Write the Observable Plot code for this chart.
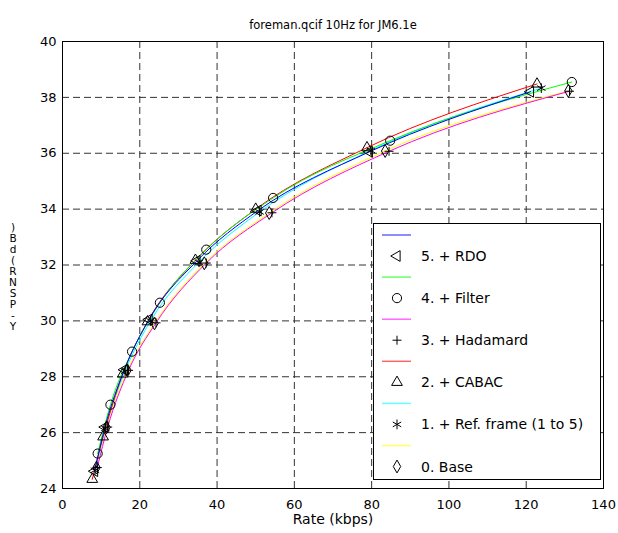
<!DOCTYPE html>
<html>
<head>
<meta charset="utf-8">
<script src="https://cdn.jsdelivr.net/npm/d3@7"></script>
<script src="https://cdn.jsdelivr.net/npm/@observablehq/plot@0.6"></script>
<style>
  html, body { margin: 0; padding: 0; background: #fff; }
  #wrap { position: relative; width: 618px; height: 533px; font-family: "DejaVu Sans", sans-serif; }
  #wrap svg.overlay { position: absolute; left: 0; top: 0; pointer-events: none; }
</style>
</head>
<body>
<div id="wrap"></div>
<script>
// ---- data ----
const titleText = "foreman.qcif 10Hz for JM6.1e";
const xLabel = "Rate (kbps)";
const yLabel = "Y-PSNR (dB)";
const xTicks = [0, 20, 40, 60, 80, 100, 120, 140];
const yTicks = [24, 26, 28, 30, 32, 34, 36, 38, 40];

const seriesNames = ["5. + RDO", "4. + Filter", "3. + Hadamard", "2. + CABAC", "1. + Ref. frame (1 to 5)", "0. Base"];
const seriesColors = ["#0000ff", "#00ff00", "#ff00ff", "#ff0000", "#00ffff", "#ffff00"];
const seriesSymbols = ["triangleLeft", "circle", "plus", "triangle", "asterisk", "diamond"];

const rateRDO = [8.3, 11.0, 16.0, 22.4, 34.8, 50.6, 79.4, 121.1];
const psnrRDO = [24.62, 26.2, 28.25, 30.05, 32.15, 33.95, 36.05, 38.2];
const rateFilter = [9.1, 12.4, 18.0, 25.2, 37.2, 54.5, 84.8, 131.8];
const psnrFilter = [25.25, 27.0, 28.9, 30.65, 32.55, 34.4, 36.45, 38.55];
const rateHadamard = [9.0, 11.7, 17.1, 24.2, 37.2, 54.2, 84.5, 131.2];
const psnrHadamard = [24.75, 26.2, 28.23, 29.93, 32.07, 33.87, 36.07, 38.22];
const rateCABAC = [7.7, 10.5, 15.6, 22.0, 34.4, 50.0, 78.8, 122.8];
const psnrCABAC = [24.33, 25.85, 28.1, 29.97, 32.17, 34.0, 36.2, 38.48];
const rateRef = [8.4, 11.1, 16.2, 22.8, 35.3, 51.0, 79.8, 123.9];
const psnrRef = [24.65, 26.15, 28.2, 30.0, 32.1, 33.9, 36.1, 38.33];
const rateBase = [8.8, 11.4, 16.8, 23.8, 36.7, 53.5, 83.5, 130.9];
const psnrBase = [24.75, 26.19, 28.23, 29.91, 32.06, 33.86, 36.08, 38.23];

const rates = [rateRDO, rateFilter, rateHadamard, rateCABAC, rateRef, rateBase];
const psnrs = [psnrRDO, psnrFilter, psnrHadamard, psnrCABAC, psnrRef, psnrBase];

// ---- build table ----
const rows = [];
seriesNames.forEach((name, i) => {
  rates[i].forEach((r, j) => rows.push({series: name, rate: r, psnr: psnrs[i][j], color: seriesColors[i], sym: seriesSymbols[i]}));
});
const drawOrder = [5, 4, 3, 2, 1, 0]; // base first, RDO last
const symRadius = {triangleLeft: 4, circle: 4.6, plus: 3, triangle: 4, asterisk: 4.6, diamond: 3.9};
const plotSym = {triangleLeft: "triangle", circle: "circle", plus: "plus", triangle: "triangle", asterisk: "asterisk", diamond: "diamond"};

const marks = [
  Plot.gridX(xTicks, {stroke: "#333", strokeOpacity: 1, strokeDasharray: "7,4"}),
  Plot.gridY(yTicks, {stroke: "#333", strokeOpacity: 1, strokeDasharray: "7,4"}),
  Plot.axisX(xTicks, {tickSize: 0, tickPadding: 11, fontSize: 13, label: null}),
  Plot.axisY(yTicks, {tickSize: 0, tickPadding: 6, fontSize: 13, label: null}),
];
drawOrder.forEach(i => {
  marks.push(Plot.line(rows.filter(d => d.series === seriesNames[i]), {x: "rate", y: "psnr", stroke: seriesColors[i], strokeWidth: 1, curve: "monotone-x"}));
});
drawOrder.forEach(i => {
  const s = seriesSymbols[i];
  marks.push(Plot.dot(rows.filter(d => d.series === seriesNames[i]), {
    x: "rate", y: "psnr", symbol: plotSym[s], r: symRadius[s],
    fill: "none", stroke: "black", strokeWidth: 1,
    rotate: s === "triangleLeft" ? -90 : 0
  }));
});
marks.push(Plot.frame({stroke: "black", strokeWidth: 1}));
marks.push(Plot.text([titleText], {frameAnchor: "top", dy: -21, fontSize: 11.5, fill: "black"}));
marks.push(Plot.text([xLabel], {frameAnchor: "bottom", dy: 35, fontSize: 14, fill: "black"}));

const chart = Plot.plot({
  width: 618,
  height: 533,
  marginLeft: 62,
  marginRight: 15,
  marginTop: 41,
  marginBottom: 45,
  style: {fontFamily: "DejaVu Sans, sans-serif", fontSize: "13px", color: "black", background: "white"},
  x: {domain: [0, 140]},
  y: {domain: [24, 40]},
  marks
});
const wrap = document.getElementById("wrap");
wrap.appendChild(chart);

// ---- overlay: stacked y label and legend ----
const ov = d3.select(wrap).append("svg").attr("class", "overlay")
  .attr("width", 618).attr("height", 533)
  .style("font-family", "DejaVu Sans, sans-serif");

// y label characters stacked bottom-to-top
const yChars = Array.from(yLabel).filter(c => c !== " ");
ov.append("g").selectAll("text").data(yChars).join("text")
  .attr("x", 13).attr("y", (d, i) => 326 - i * 11)
  .attr("text-anchor", "middle").attr("dominant-baseline", "central")
  .attr("font-size", 10.5).attr("fill", "black").text(d => d);

// legend
const lg = ov.append("g");
lg.append("rect").attr("x", 373.5).attr("y", 223.5).attr("width", 227).attr("height", 256)
  .attr("fill", "white").attr("stroke", "black").attr("stroke-width", 1);
const symType = {triangleLeft: d3.symbolTriangle, circle: d3.symbolCircle, plus: d3.symbolPlus, triangle: d3.symbolTriangle, asterisk: d3.symbolAsterisk, diamond: d3.symbolDiamond};
seriesNames.forEach((name, i) => {
  const yLine = 235 + i * 42.1;
  const yItem = yLine + 21;
  lg.append("line").attr("x1", 382).attr("x2", 411).attr("y1", yLine).attr("y2", yLine)
    .attr("stroke", seriesColors[i]).attr("stroke-opacity", 0.6).attr("stroke-width", 1.5);
  const s = seriesSymbols[i];
  const r = symRadius[s];
  lg.append("path").attr("d", d3.symbol(symType[s], Math.PI * r * r)())
    .attr("transform", `translate(397,${yItem})` + (s === "triangleLeft" ? " rotate(-90)" : ""))
    .attr("fill", "none").attr("stroke", "black").attr("stroke-width", 1);
  lg.append("text").attr("x", 421).attr("y", yItem).attr("dominant-baseline", "central")
    .attr("font-size", 14).attr("fill", "black").text(name);
});
</script>
</body>
</html>
